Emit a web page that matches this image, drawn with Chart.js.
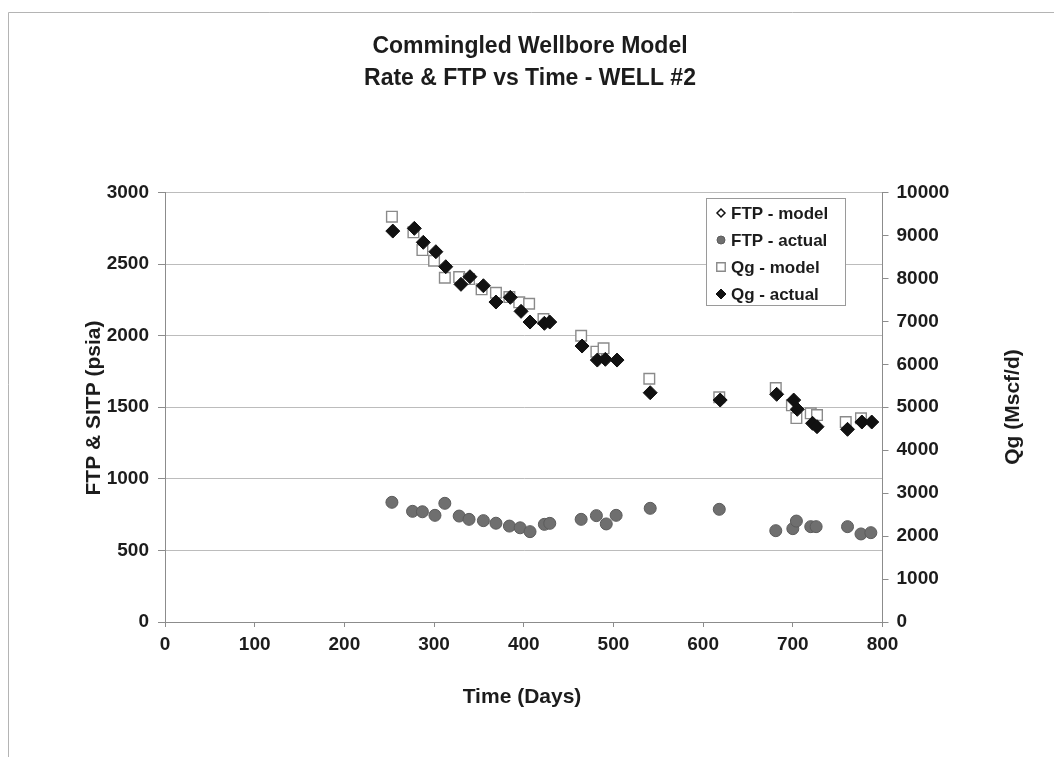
<!DOCTYPE html>
<html>
<head>
<meta charset="utf-8">
<script src="https://cdn.jsdelivr.net/npm/chart.js@4/dist/chart.umd.min.js"></script>
<style>
  html, body { margin: 0; padding: 0; background: #fff; }
  #wrap { position: relative; width: 1054px; height: 757px; }
  canvas { display: block; }
</style>
</head>
<body>
<div id="wrap"><canvas id="c" width="1054" height="757"></canvas></div>
<script>
// Well #2 production history: time in days, FTP in psia, gas rate in Mscf/d
const ftpActualDays = [253, 276, 287, 301, 312, 328, 339, 355, 369, 384, 396, 407, 423, 429,
  464, 481, 492, 503, 541, 618, 681, 700, 704, 720, 726, 761, 776, 787];
const ftpActual = [836, 773, 770, 745, 829, 740, 717, 708, 690, 670, 658, 631, 682, 689,
  717, 743, 685, 745, 794, 787, 638, 652, 705, 666, 666, 666, 615, 624];

const ftpModelDays = [];
const ftpModel = [];

const qgModelDays = [253, 277, 287, 300, 312, 328, 339, 353, 369, 384, 395, 406, 422,
  464, 481, 489, 540, 618, 681, 699, 704, 720, 727, 759, 776];
const qgModel = [9436, 9072, 8660, 8411, 8015, 8032, 7985, 7745, 7666, 7566, 7443, 7410, 7054,
  6665, 6293, 6372, 5664, 5231, 5448, 5045, 4749, 4859, 4819, 4656, 4742];

const qgActualDays = [254, 278, 288, 302, 313, 330, 340, 355, 369, 385, 397, 407, 423, 429,
  465, 482, 491, 504, 541, 619, 682, 701, 705, 722, 727, 761, 777, 788];
const qgActual = [9102, 9165, 8840, 8621, 8272, 7862, 8039, 7829, 7450, 7559, 7233, 6984, 6954, 6984,
  6425, 6099, 6116, 6099, 5338, 5168, 5301, 5168, 4952, 4626, 4547, 4486, 4656, 4656];

const timeTicks = [0, 100, 200, 300, 400, 500, 600, 700, 800];
const pressureTicks = [0, 500, 1000, 1500, 2000, 2500, 3000];
const rateTicks = [0, 1000, 2000, 3000, 4000, 5000, 6000, 7000, 8000, 9000, 10000];

const FONT = '"Liberation Sans", Arial, sans-serif';
const TEXT = '#1c1c1c';
const AXIS = '#8c8c8c';

const pairs = (xs, ys) => xs.map((x, i) => ({ x: x, y: ys[i] }));
const plain = (v) => String(v);

function drawMarker(ctx, style, x, y, r) {
  if (style === 'rectRot') {
    ctx.moveTo(x, y - r); ctx.lineTo(x + r, y); ctx.lineTo(x, y + r); ctx.lineTo(x - r, y); ctx.closePath();
  } else if (style === 'rect') {
    const s = r * Math.SQRT1_2;
    ctx.rect(x - s, y - s, 2 * s, 2 * s);
  } else {
    ctx.arc(x, y, r, 0, Math.PI * 2);
  }
}

// Page frame, titles, axis titles and the boxed legend
const decorations = {
  id: 'decorations',
  beforeDraw(chart) {
    const ctx = chart.ctx;
    ctx.save();
    ctx.fillStyle = '#fff';
    ctx.fillRect(0, 0, chart.width, chart.height);
    ctx.strokeStyle = '#b4b4b4';
    ctx.lineWidth = 1;
    ctx.beginPath();
    ctx.moveTo(8.5, 757);
    ctx.lineTo(8.5, 12.5);
    ctx.lineTo(1054, 12.5);
    ctx.stroke();
    ctx.restore();
  },
  afterDraw(chart) {
    const ctx = chart.ctx;
    ctx.save();
    ctx.fillStyle = TEXT;
    ctx.textAlign = 'center';
    ctx.textBaseline = 'middle';
    ctx.font = 'bold 23px ' + FONT;
    ctx.fillText('Commingled Wellbore Model', 530, 47);
    ctx.fillText('Rate & FTP vs Time - WELL #2', 530, 79);

    ctx.font = 'bold 21px ' + FONT;
    ctx.fillText('Time (Days)', 522, 697);

    ctx.save();
    ctx.translate(94, 408);
    ctx.rotate(-Math.PI / 2);
    ctx.fillText('FTP & SITP (psia)', 0, 0);
    ctx.restore();

    ctx.save();
    ctx.translate(1013, 407);
    ctx.rotate(-Math.PI / 2);
    ctx.fillText('Qg (Mscf/d)', 0, 0);
    ctx.restore();

    // legend box
    const lx = 706.5, ly = 198.5, lw = 139, lh = 107;
    ctx.fillStyle = '#fff';
    ctx.fillRect(lx, ly, lw, lh);
    ctx.strokeStyle = '#9a9a9a';
    ctx.lineWidth = 1;
    ctx.strokeRect(lx, ly, lw, lh);

    const rows = [213, 240, 267, 294];
    const ds = chart.data.datasets.slice().reverse();
    rows.forEach((y, i) => {
      const d = ds[i];
      ctx.fillStyle = d.backgroundColor;
      ctx.strokeStyle = d.borderColor;
      ctx.lineWidth = d.borderWidth;
      ctx.beginPath();
      drawMarker(ctx, d.pointStyle, 721, y, d.legendRadius);
      ctx.fill();
      ctx.stroke();
      ctx.fillStyle = TEXT;
      ctx.textAlign = 'left';
      ctx.font = 'bold 17px ' + FONT;
      ctx.fillText(d.label, 731, y + 1);
    });
    ctx.restore();
  }
};

const fixedWidth = (w) => (scale) => { scale.width = w; };
const tickFont = { family: FONT, size: 19, weight: 'bold' };

new Chart(document.getElementById('c'), {
  type: 'scatter',
  data: {
    datasets: [
      {
        label: 'Qg - actual',
        data: pairs(qgActualDays, qgActual),
        yAxisID: 'y2',
        pointStyle: 'rectRot',
        pointRadius: 7,
        legendRadius: 5,
        backgroundColor: '#111111',
        borderColor: '#111111',
        borderWidth: 1
      },
      {
        label: 'Qg - model',
        data: pairs(qgModelDays, qgModel),
        yAxisID: 'y2',
        pointStyle: 'rect',
        pointRadius: 7.5,
        legendRadius: 6,
        backgroundColor: '#ffffff',
        borderColor: '#8a8a8a',
        borderWidth: 1.4
      },
      {
        label: 'FTP - actual',
        data: pairs(ftpActualDays, ftpActual),
        yAxisID: 'y',
        pointStyle: 'circle',
        pointRadius: 6,
        legendRadius: 4,
        backgroundColor: '#6f6f6f',
        borderColor: '#5c5c5c',
        borderWidth: 1
      },
      {
        label: 'FTP - model',
        data: pairs(ftpModelDays, ftpModel),
        yAxisID: 'y',
        pointStyle: 'rectRot',
        pointRadius: 6,
        legendRadius: 4,
        backgroundColor: '#ffffff',
        borderColor: '#111111',
        borderWidth: 1.5
      }
    ]
  },
  options: {
    responsive: false,
    animation: false,
    layout: { padding: { top: 192.5, left: 0, right: 0, bottom: 0 } },
    plugins: {
      legend: { display: false },
      title: { display: false },
      tooltip: { enabled: false }
    },
    elements: { point: { hoverRadius: 7 } },
    scales: {
      x: {
        type: 'linear',
        min: 0,
        max: 800,
        afterBuildTicks: (s) => { s.ticks = timeTicks.map(v => ({ value: v })); },
        afterFit: (s) => { s.height = 135; },
        grid: { drawOnChartArea: false, color: AXIS, tickLength: 5 },
        border: { color: AXIS, width: 1 },
        ticks: { color: TEXT, padding: 6, font: tickFont, callback: plain }
      },
      y: {
        position: 'left',
        min: 0,
        max: 3000,
        afterBuildTicks: (s) => { s.ticks = pressureTicks.map(v => ({ value: v })); },
        afterFit: fixedWidth(165),
        grid: { color: '#bcbcbc', tickLength: 7, tickColor: AXIS },
        border: { color: AXIS, width: 1 },
        ticks: { color: TEXT, padding: 9, font: tickFont, callback: plain }
      },
      y2: {
        position: 'right',
        min: 0,
        max: 10000,
        afterBuildTicks: (s) => { s.ticks = rateTicks.map(v => ({ value: v })); },
        afterFit: fixedWidth(171.5),
        grid: { drawOnChartArea: false, color: AXIS, tickLength: 6 },
        border: { color: AXIS, width: 1 },
        ticks: { color: TEXT, padding: 8, font: tickFont, callback: plain }
      }
    }
  },
  plugins: [decorations]
});
</script>
</body>
</html>
